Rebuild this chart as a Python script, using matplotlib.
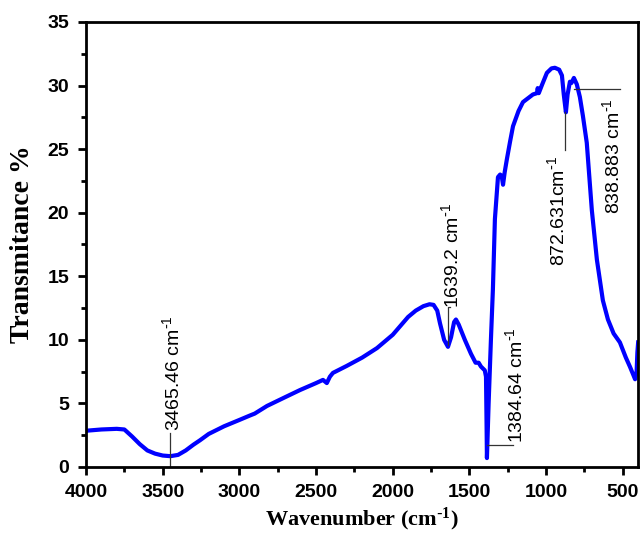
import matplotlib
matplotlib.use("Agg")
import matplotlib.pyplot as plt
from matplotlib.ticker import MultipleLocator

# FTIR spectrum
wavenumber = [4000, 3900, 3800, 3750, 3700, 3650, 3600, 3550, 3500, 3450,
              3400, 3350, 3300, 3257, 3200, 3100, 3000, 2931, 2900, 2820,
              2700, 2605, 2500, 2455, 2430, 2410, 2390, 2300, 2200, 2103,
              2000, 1950, 1900, 1850, 1800, 1760, 1734, 1710, 1692, 1665,
              1640, 1620, 1600, 1588, 1570, 1530, 1490, 1460, 1440, 1425,
              1400, 1392, 1388, 1386, 1375, 1360, 1347, 1334, 1314, 1300,
              1290, 1281, 1270, 1256, 1235, 1216, 1180, 1151, 1086, 1060,
              1055, 1048, 1027, 995, 965, 943, 915, 897, 885, 871,
              860, 845, 835, 819, 800, 780, 760, 735, 702, 669,
              630, 597, 560, 519, 480, 454, 430, 420, 410, 405,
              400]
transmittance = [2.85, 2.95, 3.0, 2.95, 2.4, 1.8, 1.3, 1.05, 0.9, 0.85,
                 0.95, 1.3, 1.75, 2.1, 2.6, 3.2, 3.7, 4.05, 4.2, 4.8,
                 5.5, 6.05, 6.6, 6.85, 6.6, 7.1, 7.4, 7.95, 8.6, 9.35,
                 10.4, 11.1, 11.8, 12.3, 12.65, 12.8, 12.75, 12.3, 11.3, 10.0,
                 9.45, 10.2, 11.4, 11.6, 11.2, 10.0, 8.9, 8.2, 8.2, 7.9,
                 7.6, 7.1, 3.0, 0.7, 5.0, 10.0, 14.0, 19.5, 22.8, 23.0,
                 22.9, 22.2, 23.2, 24.2, 25.6, 26.8, 28.0, 28.7, 29.3, 29.4,
                 29.8, 29.4, 30.05, 31.0, 31.35, 31.4, 31.25, 30.8, 29.3, 27.9,
                 29.3, 30.3, 30.2, 30.6, 30.1, 29.1, 27.6, 25.5, 20.2, 16.3,
                 13.1, 11.6, 10.5, 9.8, 8.6, 7.9, 7.2, 6.9, 7.5, 9.0,
                 9.8]

peak_labels = [r"3465.46 cm$^{\text{-}1}$", r"1639.2 cm$^{\text{-}1}$",
               r"1384.64 cm$^{\text{-}1}$", r"872.631cm$^{\text{-}1}$",
               r"838.883 cm$^{\text{-}1}$"]

plt.rcParams['font.family'] = 'Liberation Sans'
plt.rcParams['mathtext.default'] = 'regular'

fig = plt.figure(figsize=(6.42, 5.43), dpi=100)
ax = fig.add_axes([0.134, 0.14, 0.86, 0.8195])

ax.plot(wavenumber, transmittance, color='#0000ff', lw=3)

ax.set_xlim(4000, 400)
ax.set_ylim(0, 35)
ax.xaxis.set_major_locator(MultipleLocator(500))
ax.xaxis.set_minor_locator(MultipleLocator(250))
ax.yaxis.set_major_locator(MultipleLocator(5))
ax.yaxis.set_minor_locator(MultipleLocator(2.5))
ax.tick_params(which='major', direction='out', length=6, width=2, pad=6, labelsize=14)
ax.tick_params(which='minor', direction='out', length=3.5, width=2)
for lab in ax.get_xticklabels() + ax.get_yticklabels():
    lab.set_fontweight('bold')
for sp in ax.spines.values():
    sp.set_linewidth(2)

ax.set_xlabel(r"Wavenumber (cm$^{\text{-}1}$)", family='Liberation Serif',
              fontweight='bold', fontsize=16, labelpad=4)
ax.set_ylabel("Transmitance %", family='Liberation Serif',
              fontweight='bold', fontsize=20, labelpad=9)

# peak markers
lc = dict(color='#333333', lw=0.9)
ax.plot([3450, 3450], [0, 2.7], **lc)
ax.text(3440, 2.8, peak_labels[0], rotation=90, ha='center', va='bottom', fontsize=14)

ax.plot([1640, 1640, 1626], [9.6, 12.6, 12.6], **lc)
ax.text(1622, 12.5, peak_labels[1], rotation=90, ha='center', va='bottom', fontsize=14)

ax.plot([1386, 1216], [1.7, 1.7], **lc)
ax.text(1200, 1.9, peak_labels[2], rotation=90, ha='center', va='bottom', fontsize=14)

ax.plot([875, 875], [27.9, 24.9], **lc)
ax.text(930, 24.5, peak_labels[3], rotation=90, ha='center', va='top', fontsize=14)

ax.plot([819, 519], [29.7, 29.7], **lc)
ax.text(570, 29.0, peak_labels[4], rotation=90, ha='center', va='top', fontsize=14)

fig.savefig("out.png", dpi=100)
